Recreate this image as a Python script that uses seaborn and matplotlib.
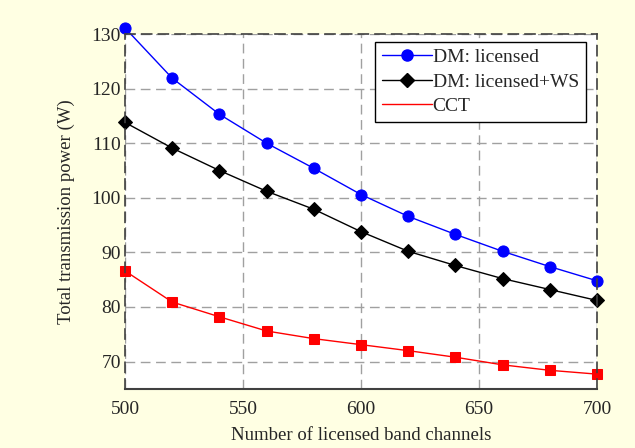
import seaborn as sns
import matplotlib.pyplot as plt
from matplotlib.lines import Line2D

# Dados
canais = [500, 520, 540, 560, 580, 600, 620, 640, 660, 680, 700]
dm_licensed = [131.1, 121.9, 115.3, 110.0, 105.4, 100.6, 96.6, 93.3, 90.2, 87.4, 84.8]
dm_licensed_ws = [113.8, 109.1, 105.0, 101.2, 97.9, 93.8, 90.2, 87.6, 85.2, 83.2, 81.2]
cct = [86.6, 80.9, 78.2, 75.6, 74.2, 73.1, 72.0, 70.8, 69.4, 68.4, 67.7]
nomes = ["DM: licensed", "DM: licensed+WS", "CCT"]

sns.set_style("white")
plt.rcParams["font.family"] = ["Liberation Serif", "DejaVu Serif"]

fig = plt.figure(figsize=(6.35, 4.48), dpi=100, facecolor="#FFFFE3")
ax = fig.add_axes([0.197, 0.132, 0.743, 0.792])
ax.set_facecolor("white")

sns.lineplot(x=canais, y=dm_licensed, ax=ax, color="blue", marker="o",
             markersize=8, markeredgecolor="blue", lw=1)
sns.lineplot(x=canais, y=dm_licensed_ws, ax=ax, color="black", marker="D",
             markersize=7, markeredgecolor="black", lw=1)
sns.lineplot(x=canais, y=cct, ax=ax, color="red", marker="s",
             markersize=7.5, markeredgecolor="red", lw=1)

ax.set_xlim(500, 700)
ax.set_ylim(65, 130)
ax.set_xticks([500, 550, 600, 650, 700])
ax.set_yticks([70, 80, 90, 100, 110, 120, 130])
ax.tick_params(labelsize=14, direction="in", length=4, color="#404040")
ax.tick_params(axis="x", pad=9)
ax.tick_params(axis="y", pad=3)
for l in ax.lines:
    l.set_clip_on(False)

ax.grid(True, color="#A0A0A0", ls=(0, (7, 4)), lw=1)
for lado in ["left", "top", "right"]:
    ax.spines[lado].set_linestyle((0, (6, 4)))
    ax.spines[lado].set_color("#404040")
    ax.spines[lado].set_linewidth(1.2)
ax.spines["bottom"].set_color("#404040")
ax.spines["bottom"].set_linewidth(1.5)

ax.set_xlabel("Number of licensed band channels", fontsize=13.5, labelpad=6)
ax.set_ylabel("Total transmission power (W)", fontsize=13.5, labelpad=12)

# Legenda no estilo MATLAB (CCT sem marcador)
handles = [
    Line2D([], [], color="blue", marker="o", markersize=8, lw=1),
    Line2D([], [], color="black", marker="D", markersize=7, lw=1),
    Line2D([], [], color="red", lw=1),
]
leg = ax.legend(handles, nomes, loc="upper right", fontsize=14, frameon=True,
                fancybox=False, edgecolor="black", framealpha=1,
                bbox_to_anchor=(0.976, 0.978), handlelength=2.6,
                handletextpad=0.02, borderpad=0.35, labelspacing=0.35,
                borderaxespad=0.0)
leg.get_frame().set_linewidth(1)

plt.savefig("out.png", dpi=100, facecolor=fig.get_facecolor())
